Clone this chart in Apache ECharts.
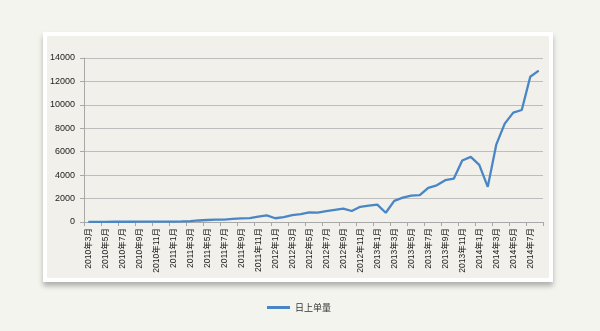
<!DOCTYPE html>
<html>
<head>
<meta charset="utf-8">
<script src="https://cdn.jsdelivr.net/npm/echarts@6/dist/echarts.min.js"></script>
<style>
  html, body { margin:0; padding:0; background:#f4f4ef; width:600px; height:331px; overflow:hidden; }
  #card { position:absolute; left:43px; top:32px; width:502px; height:242px; background:#f1f0ea;
          border:4px solid #ffffff; box-shadow: 0 4px 5px rgba(0,0,0,0.28); }
  #chart { position:absolute; left:0; top:0; width:600px; height:331px; }
</style>
</head>
<body>
<div id="card"></div>
<div id="chart"></div>
<script>
// Categories: monthly from 2010年3月 to 2014年8月
const startYear = 2010, startMonth = 3, monthCount = 54;
const categories = [];
for (let k = 0; k < monthCount; k++) {
  const m = startMonth - 1 + k;
  categories.push((startYear + Math.floor(m / 12)) + '年' + (m % 12 + 1) + '月');
}
const seriesName = '日上单量';
const values = [
  10, 15, 15, 20, 20, 20, 25, 25, 30, 30,
  40, 50, 80, 130, 170, 200, 210, 260, 310, 330,
  460, 560, 320, 420, 580, 670, 830, 800, 930, 1040,
  1140, 940, 1300, 1390, 1480, 790, 1800, 2080, 2260, 2290,
  2920, 3130, 3570, 3700, 5250, 5560, 4870, 3000, 6600, 8400,
  9340, 9560, 12400, 12920
];
const yTicks = [0, 2000, 4000, 6000, 8000, 10000, 12000, 14000];

const chart = echarts.init(document.getElementById('chart'), null, { renderer: 'canvas' });
chart.setOption({
  backgroundColor: 'transparent',
  animation: false,
  textStyle: { fontFamily: 'Liberation Sans, Noto Sans CJK SC, sans-serif' },
  grid: { left: 84, right: 57, top: 58, bottom: 109, containLabel: false },
  legend: {
    data: [{ name: seriesName, icon: 'rect' }],
    left: 262, top: 298,
    itemWidth: 23, itemHeight: 3, itemGap: 10,
    textStyle: { fontSize: 9, color: '#333', fontFamily: 'Noto Sans CJK SC, sans-serif' }
  },
  xAxis: {
    type: 'category',
    data: categories,
    boundaryGap: true,
    axisLine: { show: true, lineStyle: { color: '#a8a8a8', width: 1 } },
    axisTick: { show: true, interval: 1, length: 4, lineStyle: { color: '#a8a8a8' } },
    axisLabel: { interval: 1, rotate: 90, fontSize: 8.5, color: '#222', margin: 6,
                 fontFamily: 'Liberation Sans, Noto Sans CJK SC, sans-serif' },
    splitLine: { show: false }
  },
  yAxis: {
    type: 'value',
    min: yTicks[0], max: yTicks[yTicks.length - 1], interval: 2000,
    axisLine: { show: true, lineStyle: { color: '#a8a8a8', width: 1 } },
    axisTick: { show: true, length: 4, lineStyle: { color: '#a8a8a8' } },
    axisLabel: { fontSize: 9, color: '#222', margin: 9, formatter: v => String(v) },
    splitLine: { show: true, lineStyle: { color: '#bdbdbd', width: 1 } }
  },
  series: [{
    name: seriesName,
    type: 'line',
    data: values,
    symbol: 'none',
    smooth: false,
    lineStyle: { color: '#4a86c6', width: 2.3 },
    itemStyle: { color: '#4a86c6' }
  }]
});
</script>
</body>
</html>
